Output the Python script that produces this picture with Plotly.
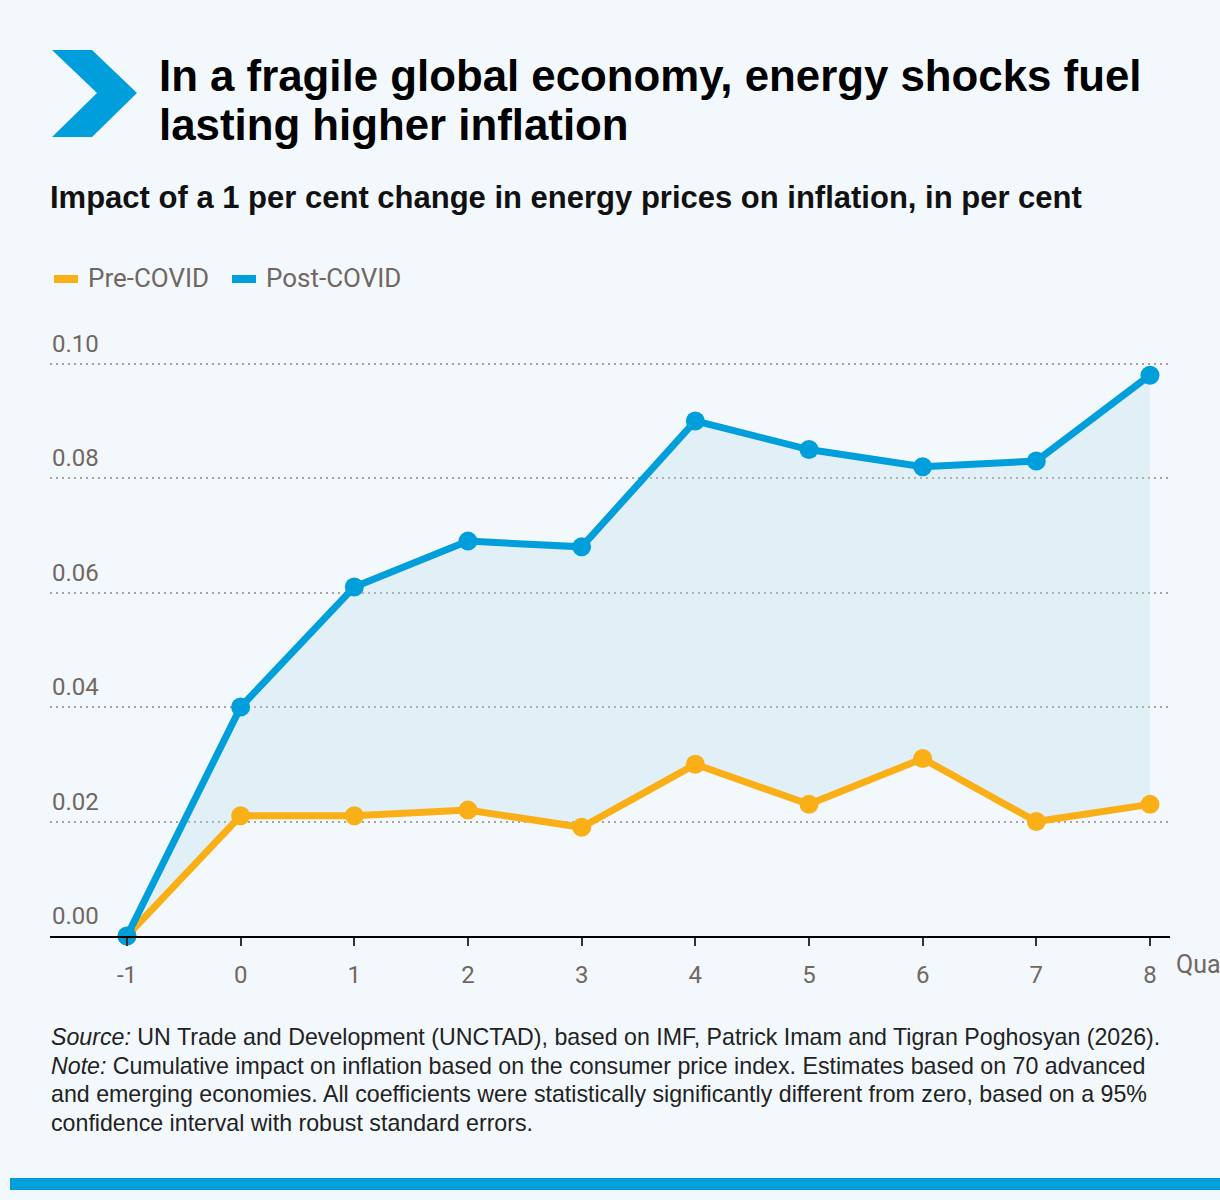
import plotly.graph_objects as go

quarters = [-1, 0, 1, 2, 3, 4, 5, 6, 7, 8]
pre_covid = [0.0, 0.021, 0.021, 0.022, 0.019, 0.030, 0.023, 0.031, 0.020, 0.023]
post_covid = [0.0, 0.040, 0.061, 0.069, 0.068, 0.090, 0.085, 0.082, 0.083, 0.098]
y_ticks = [0.0, 0.02, 0.04, 0.06, 0.08, 0.10]
y_tick_labels = ["0.00", "0.02", "0.04", "0.06", "0.08", "0.10"]

ORANGE = "#fbaf17"
BLUE = "#009edb"
FILL = "rgba(186,218,236,0.3)"
BG = "#f3f8fd"
GREY = "#716761"
NARROW = "Roboto, sans-serif"
SANS = "Liberation Sans, Arial, sans-serif"

W, H = 1220, 1200
L, R, T, B = 50, 50, 362, 264
PW, PH = W - L - R, H - T - B


def xp(px):
    return (px - L) / PW


def yp(py):
    return (H - B - py) / PH


fig = go.Figure()
fig.add_trace(go.Scatter(
    x=quarters, y=pre_covid, mode="lines+markers", name="Pre-COVID",
    line=dict(color=ORANGE, width=7), marker=dict(color=ORANGE, size=19),
    cliponaxis=False, showlegend=False))
fig.add_trace(go.Scatter(
    x=quarters, y=post_covid, mode="lines+markers", name="Post-COVID",
    line=dict(color=BLUE, width=7), marker=dict(color=BLUE, size=19),
    fill="tonexty", fillcolor=FILL,
    cliponaxis=False, showlegend=False))

shapes = []
annotations = []

# Chevron logo
pts = [(52, 50), (92, 50), (137, 93), (92, 137), (52, 137), (97, 93)]
path = "M " + " L ".join(f"{xp(a)},{yp(b)}" for a, b in pts) + " Z"
shapes.append(dict(type="path", xref="paper", yref="paper", path=path,
                   fillcolor=BLUE, line=dict(width=0)))

# Bottom bar
shapes.append(dict(type="rect", xref="paper", yref="paper",
                   x0=xp(10), x1=xp(1230), y0=yp(1178), y1=yp(1190),
                   fillcolor=BLUE, line=dict(width=0), layer="above"))

# Title (two lines)
for txt, yc in [("In a fragile global economy, energy shocks fuel", 75),
                ("lasting higher inflation", 124)]:
    annotations.append(dict(
        xref="paper", yref="paper", x=xp(157), y=yp(yc), xanchor="left", yanchor="middle",
        showarrow=False, text=f"<b>{txt}</b>",
        font=dict(family=SANS, size=43.8, color="#000000")))

# Subtitle
annotations.append(dict(
    xref="paper", yref="paper", x=xp(48), y=yp(197), xanchor="left", yanchor="middle",
    showarrow=False,
    text="<b>Impact of a 1 per cent change in energy prices on inflation, in per cent</b>",
    font=dict(family=SANS, size=31, color="#111111")))

# Legend (manual)
for (x0, x1, tx, label, col) in [(54, 78, 86, "Pre-COVID", ORANGE),
                                  (232, 256, 264, "Post-COVID", BLUE)]:
    shapes.append(dict(type="line", xref="paper", yref="paper",
                       x0=xp(x0), x1=xp(x1), y0=yp(279), y1=yp(279),
                       line=dict(color=col, width=8)))
    annotations.append(dict(
        xref="paper", yref="paper", x=xp(tx), y=yp(278), xanchor="left", yanchor="middle",
        showarrow=False, text=label, font=dict(family=NARROW, size=26, color=GREY)))

# Y tick labels above gridlines
for v, lab in zip(y_ticks, y_tick_labels):
    annotations.append(dict(
        xref="paper", yref="y", x=0, y=v, xanchor="left", yanchor="bottom",
        yshift=4, showarrow=False, text=lab,
        font=dict(family=NARROW, size=24, color=GREY)))

# Axis title (cut off at edge, as in the reference)
annotations.append(dict(
    xref="paper", yref="paper", x=xp(1174), y=yp(964), xanchor="left", yanchor="middle",
    showarrow=False, text="Quarters", font=dict(family=NARROW, size=25, color=GREY)))

# Footnote lines
foot_lines = [
    "<i>Source:</i> UN Trade and Development (UNCTAD), based on IMF, Patrick Imam and Tigran Poghosyan (2026).",
    "<i>Note:</i> Cumulative impact on inflation based on the consumer price index. Estimates based on 70 advanced",
    "and emerging economies. All coefficients were statistically significantly different from zero, based on a 95%",
    "confidence interval with robust standard errors.",
]
for i, line in enumerate(foot_lines):
    annotations.append(dict(
        xref="paper", yref="paper", x=xp(49), y=yp(1037 + i * 28.7), xanchor="left",
        yanchor="middle", showarrow=False, text=line,
        font=dict(family=SANS, size=23.2, color="#222222")))

fig.update_layout(
    width=W, height=H, margin=dict(l=L, r=R, t=T, b=B),
    paper_bgcolor=BG, plot_bgcolor=BG,
    shapes=shapes, annotations=annotations,
    xaxis=dict(range=[-1.677, 8.176], tickvals=quarters,
               ticktext=[str(q) for q in quarters],
               showgrid=False, zeroline=False, showline=True, linecolor="#000000",
               linewidth=2, ticks="outside", ticklen=8, tickwidth=2, tickcolor="#333333",
               ticklabelstandoff=8,
               tickfont=dict(family=NARROW, size=24, color=GREY)),
    yaxis=dict(range=[0, 0.1003], tickvals=y_ticks[1:], showticklabels=False,
               showgrid=True, gridcolor="#a9a19b", gridwidth=2, griddash="2px,4px",
               zeroline=False, showline=False),
)

fig.write_html("out.html")
